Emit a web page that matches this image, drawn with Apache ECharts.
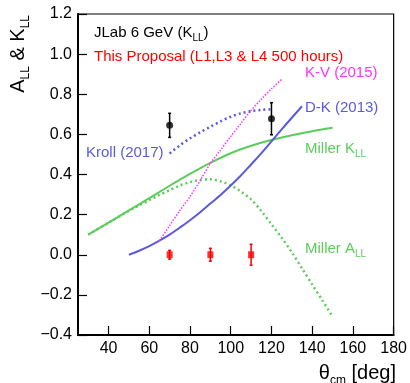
<!DOCTYPE html>
<html><head><meta charset="utf-8">
<script src="https://cdn.jsdelivr.net/npm/echarts@6/dist/echarts.min.js"></script>
<style>html,body{margin:0;padding:0;background:#fff}#c{width:410px;height:383px}</style>
</head><body><div id="c"></div>
<script>
const xTicks = [40, 60, 80, 100, 120, 140, 160, 180];
const millerK = [[30,0.10],[40,0.16],[50,0.221],[60,0.282],[70,0.344],[80,0.403],[90,0.458],[100,0.506],[110,0.543],[120,0.572],[130,0.596],[140,0.616],[150,0.633]];
const millerA = [[30,0.10],[40,0.16],[50,0.219],[55,0.246],[60,0.272],[65,0.298],[70,0.322],[75,0.345],[80,0.362],[85,0.373],[90,0.376],[95,0.366],[100,0.346],[105,0.315],[110,0.276],[115,0.218],[120,0.152],[125,0.085],[130,0.012],[135,-0.068],[140,-0.148],[145,-0.228],[150,-0.308]];
const dk2013 = [[50,0.0],[55,0.02],[60,0.043],[65,0.07],[70,0.10],[75,0.135],[80,0.172],[85,0.212],[90,0.255],[95,0.298],[100,0.345],[105,0.395],[110,0.45],[115,0.505],[120,0.565],[125,0.625],[130,0.683],[135,0.74]];
const kv2015 = [[65,0.07],[70,0.145],[75,0.22],[80,0.29],[85,0.37],[90,0.455],[95,0.522],[100,0.59],[105,0.655],[110,0.72],[115,0.775],[120,0.827],[125,0.874]];
const kroll2017 = [[70,0.505],[75,0.545],[80,0.58],[85,0.61],[90,0.638],[95,0.665],[100,0.688],[105,0.705],[110,0.716],[115,0.722],[120,0.725]];
const jlabX = [70, 120];
const jlabY = [0.645, 0.678];
const jlabErr = [0.06, 0.08];
const propX = [70, 90, 110];
const propY = [0.0, 0.0, 0.0];
const propErr = [0.022, 0.032, 0.052];

const FONT = 'Liberation Sans, Arial, Helvetica, sans-serif';
const GREEN = '#5ccc5c', BLUE = '#5a5ae0', MAG = '#ff33ff', RED = '#ff0000';

const jlab = jlabX.map((x, i) => [x, jlabY[i], jlabErr[i]]);
const prop = propX.map((x, i) => [x, propY[i], propErr[i]]);

function errBar(color, cap) {
  return function (params, api) {
    const x = api.value(0), y = api.value(1), e = api.value(2);
    const t = api.coord([x, y + e]), b = api.coord([x, y - e]);
    const st = { stroke: color, lineWidth: 1.5 };
    return { type: 'group', children: [
      { type: 'line', shape: { x1: t[0], y1: t[1], x2: b[0], y2: b[1] }, style: st },
      { type: 'line', shape: { x1: t[0] - cap, y1: t[1], x2: t[0] + cap, y2: t[1] }, style: st },
      { type: 'line', shape: { x1: b[0] - cap, y1: b[1], x2: b[0] + cap, y2: b[1] }, style: st }
    ]};
  };
}

function lbl(x, y, text, color, rich) {
  return { type: 'text', x: x, y: y, z: 10,
    style: { text: text, fill: color, font: '15px ' + FONT, textVerticalAlign: 'middle',
      rich: rich || {} } };
}
function richC(color) {
  return { m: { fontSize: 15, lineHeight: 21, fontFamily: FONT, color: color },
           s: { fontSize: 10, lineHeight: 10, verticalAlign: 'bottom', fontFamily: FONT, color: color } };
}

const chart = echarts.init(document.getElementById('c'));
chart.setOption({
  animation: false,
  backgroundColor: '#fff',
  grid: { left: 78, right: 14, top: 14, bottom: 48, show: true, borderColor: '#000', borderWidth: 1.2, backgroundColor: 'transparent' },
  xAxis: {
    type: 'value', min: 25, max: 180,
    axisLine: { show: true, onZero: false, lineStyle: { color: '#000', width: 2 } },
    axisTick: { show: true, inside: true, length: 9, customValues: xTicks, lineStyle: { color: '#000', width: 1.2 } },
    axisLabel: { customValues: xTicks, color: '#000', fontSize: 16, fontFamily: FONT, margin: 6 },
    splitLine: { show: false }
  },
  yAxis: {
    type: 'value', min: -0.4, max: 1.2, interval: 0.2,
    axisLine: { show: true, onZero: false, lineStyle: { color: '#000', width: 2 } },
    axisTick: { show: true, inside: true, length: 9, lineStyle: { color: '#000', width: 1.2 } },
    axisLabel: { color: '#000', fontSize: 16, fontFamily: FONT, margin: 6,
      formatter: v => (Math.abs(v) < 1e-9 ? 0 : v).toFixed(1).replace('-', '\u2212') },
    splitLine: { show: false }
  },
  series: [
    { type: 'line', data: millerK, smooth: 0.3, symbol: 'none', lineStyle: { color: GREEN, width: 2 } },
    { type: 'line', data: millerA, smooth: 0.3, symbol: 'none', lineStyle: { color: GREEN, width: 2.5, type: [2, 3] } },
    { type: 'line', data: dk2013, smooth: 0.3, symbol: 'none', lineStyle: { color: BLUE, width: 2 } },
    { type: 'line', data: kv2015, smooth: 0.3, symbol: 'none', lineStyle: { color: MAG, width: 1.5, type: [1.5, 1.5] } },
    { type: 'line', data: kroll2017, smooth: 0.3, symbol: 'none', lineStyle: { color: BLUE, width: 2.5, type: [2, 3] } },
    { type: 'custom', data: jlab, encode: { x: 0, y: 1 }, renderItem: errBar('#000', 1.5), z: 5 },
    { type: 'scatter', data: jlab, symbol: 'circle', symbolSize: 7, itemStyle: { color: '#000' }, z: 6 },
    { type: 'custom', data: prop, encode: { x: 0, y: 1 }, renderItem: errBar(RED, 1.5), z: 5 },
    { type: 'scatter', data: prop, symbol: 'rect', symbolSize: [6, 7], itemStyle: { color: RED }, z: 6 }
  ],
  graphic: [
    lbl(94, 33, '{m|JLab 6 GeV (K}{s|LL}{m|)}', '#000', richC('#000')),
    lbl(94, 57, 'This Proposal (L1,L3 & L4 500 hours)', RED),
    lbl(305, 72.5, 'K-V (2015)', MAG),
    lbl(305, 108, 'D-K (2013)', BLUE),
    lbl(86, 153, 'Kroll (2017)', BLUE),
    lbl(305, 148.5, '{m|Miller K}{s|LL}', GREEN, richC(GREEN)),
    lbl(305, 249, '{m|Miller A}{s|LL}', GREEN, richC(GREEN)),
    { type: 'text', x: 396, y: 373, z: 10,
      style: { text: '{m|\u03b8}{s|cm}{m| [deg]}', textAlign: 'right', textVerticalAlign: 'middle', fill: '#000',
        rich: { m: { fontSize: 20, lineHeight: 28, fontFamily: FONT, color: '#000' },
                s: { fontSize: 12, lineHeight: 12, verticalAlign: 'bottom', fontFamily: FONT, color: '#000' } } } },
    { type: 'text', x: 18, y: 15, rotation: Math.PI / 2, z: 10,
      style: { text: '{m|A}{s|LL}{m| & K}{s|LL}', textAlign: 'right', textVerticalAlign: 'middle', fill: '#000',
        rich: { m: { fontSize: 20, lineHeight: 28, fontFamily: FONT, color: '#000' },
                s: { fontSize: 12, lineHeight: 12, verticalAlign: 'bottom', fontFamily: FONT, color: '#000' } } } }
  ]
});
</script>
</body></html>
